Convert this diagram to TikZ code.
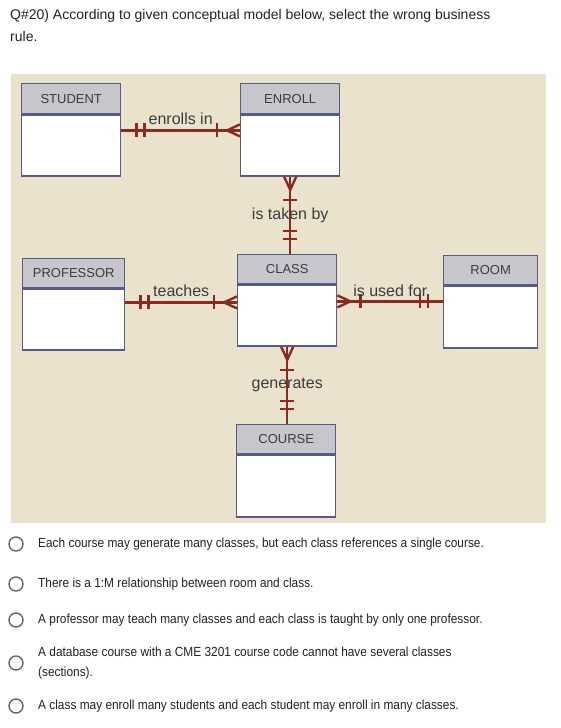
\documentclass[tikz,border=0pt]{standalone}
\usepackage{fontspec}
\setmainfont{Liberation Sans}
\newfontfamily\optfont[FakeStretch=0.9]{Liberation Sans}
\usetikzlibrary{calc,positioning}

\definecolor{panelbg}{HTML}{EAE2CC}
\definecolor{headgray}{HTML}{C7C7CB}
\definecolor{eborder}{HTML}{565B8A}
\definecolor{relred}{HTML}{8A2B23}
\definecolor{lblgray}{HTML}{3C3C3C}
\definecolor{formtext}{HTML}{202124}

\begin{document}
\begin{tikzpicture}[
  x=1pt,y=-1pt,
  % an entity is a grey title bar with an empty white body under it
  ehead/.style={draw=eborder,line width=1.4pt,fill=headgray,minimum width=99pt,
                minimum height=30pt,inner sep=0pt,text=lblgray,
                font=\fontsize{13}{15}\selectfont},
  ebody/.style={draw=eborder,line width=1.4pt,fill=white,minimum width=99pt,
                minimum height=61pt,inner sep=0pt},
  rel/.style={draw=relred,line width=2.4pt},
  lbl/.style={text=lblgray,font=\fontsize{16}{18}\selectfont,inner sep=1pt},
  radio/.style={circle,draw=black!60,line width=1.4pt,minimum size=14pt,inner sep=0pt},
  opt/.style={text=formtext,align=left,inner sep=0pt,
              font=\optfont\fontsize{13.2}{20}\selectfont},
  % crow's foot ends, drawn outward from the entity edge along +x
  many/.pic={\draw[rel] (0,-6) -- (13,0) -- (0,6);
             \draw[rel] (23,-7) -- (23,7);},
  one/.pic={\draw[rel] (15,-7) -- (15,7);
            \draw[rel] (23,-7) -- (23,7);},
]
\useasboundingbox (0,0) rectangle (560,728);

%--- question ----------------------------------------------------------------
\node[anchor=north west,align=left,inner sep=0pt,text=formtext,
      font=\fontsize{14}{22}\selectfont] (quest) at (10,9)
  {Q\#20) According to given conceptual model below, select the wrong business\\rule.};

%--- diagram panel -----------------------------------------------------------
\fill[panelbg] (11,74) rectangle (546,523);

%--- entities ----------------------------------------------------------------
\node[ehead,anchor=north west] (student) at (21,83) {STUDENT};
\node[ebody,below=0pt of student] (student-b) {};

\node[ehead,anchor=north west] (enroll) at (240,83) {ENROLL};
\node[ebody,below=0pt of enroll] (enroll-b) {};

\node[ehead,anchor=north west,minimum width=102pt,minimum height=29pt] (prof) at (22,258) {PROFESSOR};
\node[ebody,below=0pt of prof,minimum width=102pt] (prof-b) {};

\node[ehead,anchor=north west,minimum height=29pt] (class) at (237,254) {CLASS};
\node[ebody,below=0pt of class] (class-b) {};

\node[ehead,anchor=north west,minimum width=94pt,minimum height=29pt] (room) at (443,255) {ROOM};
\node[ebody,below=0pt of room,minimum width=94pt,minimum height=62pt] (room-b) {};

\node[ehead,anchor=north west,minimum height=29pt] (course) at (236,424) {COURSE};
\node[ebody,below=0pt of course,minimum height=62pt] (course-b) {};

%--- relationships -----------------------------------------------------------
\draw[rel] ([yshift=-16pt]student-b.north east) pic{one}
  -- node[lbl,above=4pt]{enrolls in} ([yshift=-16pt]enroll-b.north west) pic[rotate=180]{many};

\draw[rel] ([yshift=-14pt]prof-b.north east) pic{one}
  -- node[lbl,above=4pt]{teaches} ([yshift=-14pt]prof-b.north east -| class-b.west) pic[rotate=180]{many};

\draw[rel] ([yshift=-17pt]class-b.north east) pic{many}
  -- node[lbl,above=3pt]{is used for} ([yshift=-17pt]class-b.north east -| room-b.west) pic[rotate=180]{one};

\draw[rel] (enroll-b.south) pic[rotate=-90]{many}
  -- node[lbl]{is taken by} (enroll-b.south |- class.north) pic[rotate=90]{one};

\draw[rel] (class-b.south) pic[rotate=-90]{many}
  -- node[lbl]{generates} (class-b.south |- course.north) pic[rotate=90]{one};

%--- answer choices ----------------------------------------------------------
\foreach \i/\y/\txt in {
  1/544/{Each course may generate many classes, but each class references a single course.},
  2/584/{There is a 1:M relationship between room and class.},
  3/620/{A professor may teach many classes and each class is taught by only one professor.},
  4/663/{A database course with a CME 3201 course code cannot have several classes\\(sections).},
  5/706/{A class may enroll many students and each student may enroll in many classes.}} {
  \node[radio] (radio\i) at (16,\y) {};
  \node[opt,anchor=west] (choice\i) at (38,\y) {\txt};
}
\end{tikzpicture}
\end{document}
